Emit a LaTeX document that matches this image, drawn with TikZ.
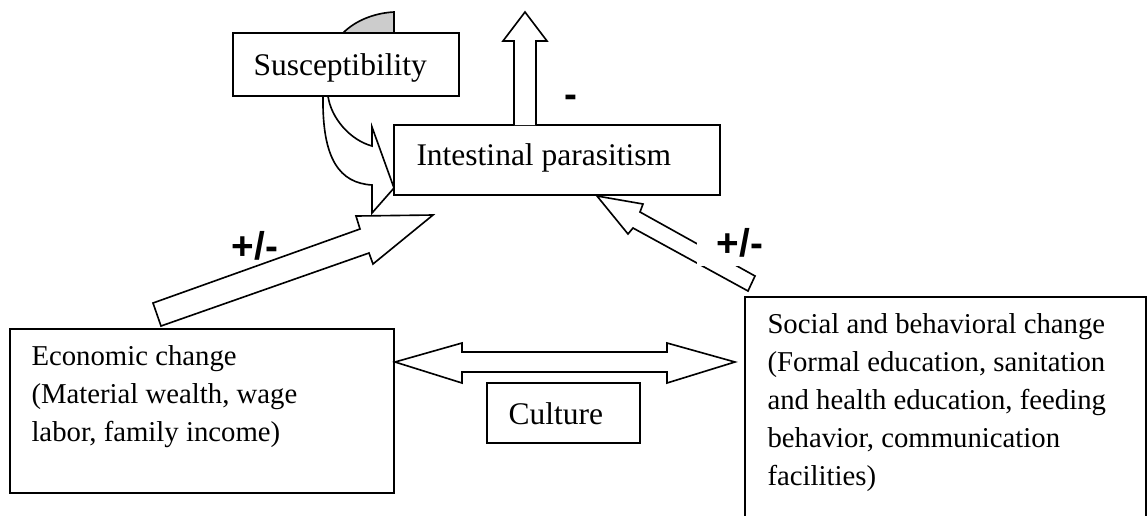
\documentclass[tikz,border=0pt]{standalone}
\usepackage{fontspec}
\setmainfont{Liberation Serif}
\newfontfamily\signfont{Liberation Sans}
\begin{document}
\begin{tikzpicture}[x=0.4pt,y=-0.4pt,
  box/.style={draw, line width=0.8pt, fill=white},
  blk/.style={draw, line width=0.65pt, fill=white, line join=miter},
  txt/.style={font=\fontsize{12.6}{15}\selectfont, inner sep=0pt, anchor=base west},
  ptxt/.style={font=\fontsize{11.5}{15.2}\selectfont, inner sep=0pt, anchor=base west},
  sign/.style={font=\signfont\bfseries\fontsize{15.5}{17}\selectfont, inner sep=0pt}]
\useasboundingbox (0,0) rectangle (1148,515);

% grey cap behind Susceptibility box
\filldraw[fill=gray!40, draw=black, line width=0.65pt]
  (343,33) .. controls (356,20) and (375,13) .. (394,12) -- (394,33) -- cycle;

% boxes
\draw[box] (233,33) rectangle (459,96);
\draw[box] (394,125) rectangle (720,195);
\draw[box] (10,329) rectangle (394,493);
\draw[box] (745,297) rectangle (1146,530);
\draw[box] (487,383) rectangle (640,443);

% texts
\node[txt] (sus) at (253,75) {Susceptibility};
\node[txt] (int) at (416,165) {Intestinal parasitism};
\node[ptxt] (eco) at (31,365) {\parbox[t]{150pt}{\raggedright Economic change\\(Material wealth, wage\\labor, family income)}};
\node[ptxt] (soc) at (767,333) {\parbox[t]{150pt}{\raggedright Social and behavioral change\\(Formal education, sanitation\\and health education, feeding\\behavior, communication\\facilities)}};
\node[txt] (cul) at (508,424) {Culture};

% up arrow from Intestinal parasitism
\draw[blk] (514,125) -- (514,41) -- (503,41) -- (525,12) -- (547,41) -- (536,41) -- (536,125);
\node[sign] (minus) at (571,101) {-};

% curved arrow Susceptibility -> Intestinal parasitism
\draw[blk] (328,96) .. controls (331,118) and (350,140) .. (372,146)
  -- (372,127) -- (394,188) -- (372,213) -- (372,185)
  .. controls (340,183) and (322,160) .. (323,96) -- cycle;

% economic -> intestinal
\draw[blk] (161,326) -- (369,253) -- (373,264) -- (433,215) -- (356,216) -- (360,229) -- (153,303) -- cycle;
\node[sign] (pm1) at (255,246) {+/-};

% social -> intestinal
\draw[blk] (597,196) -- (643,204) -- (640,212) -- (755,276) -- (748,291) -- (633,228) -- (628,234) -- cycle;
\fill[white] (697,226) rectangle (776,266);
\node[sign] (pm2) at (740,243) {+/-};

% double arrow economic <-> social
\draw[blk] (395,362) -- (462,343) -- (462,352) -- (667,352) -- (667,343) -- (735,362)
  -- (667,383) -- (667,372) -- (462,372) -- (462,383) -- cycle;
\end{tikzpicture}
\end{document}
